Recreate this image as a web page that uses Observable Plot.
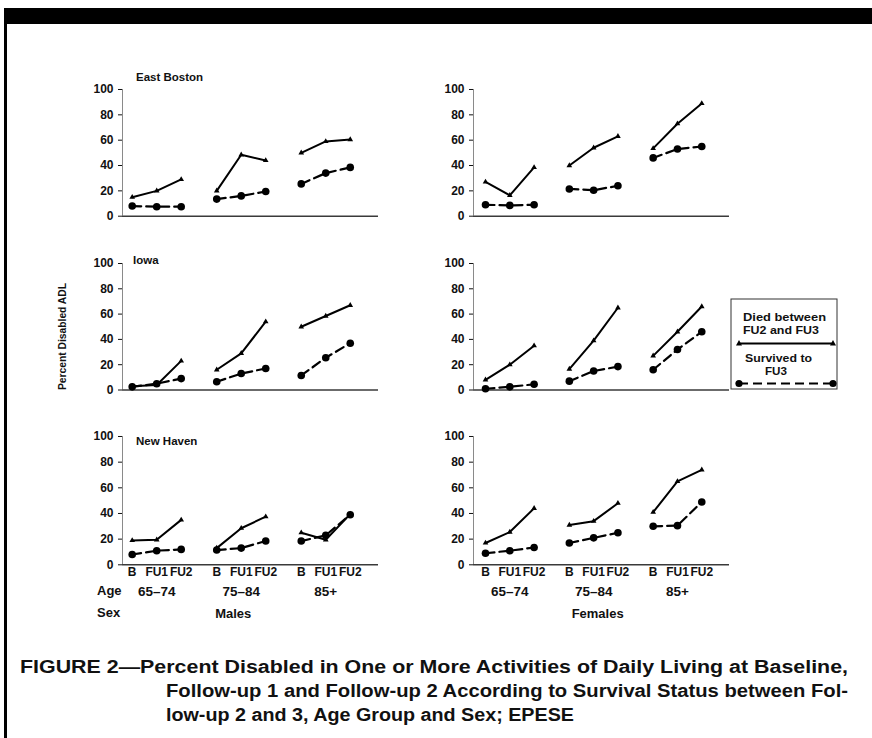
<!DOCTYPE html>
<html><head><meta charset="utf-8">
<script src="https://cdn.jsdelivr.net/npm/d3@7"></script>
<script src="https://cdn.jsdelivr.net/npm/@observablehq/plot@0.6"></script>
<style>
html,body{margin:0;padding:0;background:#fff;}
#fig{position:relative;width:872px;height:738px;overflow:hidden;font-family:"Liberation Sans",Arial,sans-serif;color:#111;background:#fff;}
</style></head><body><div id="fig"></div>
<script>
// ---------- data ----------
const sites = ["East Boston", "Iowa", "New Haven"];
const sexes = ["Males", "Females"];
const ageGroups = ["65–74", "75–84", "85+"];
const visits = ["B", "FU1", "FU2"];
const yTicks = [0, 20, 40, 60, 80, 100];

// values: 3 age groups x 3 visits (B, FU1, FU2)
const diedEastBostonMales     = [15, 20, 29,   20, 48.5, 44,   50, 59, 60.5];
const survEastBostonMales     = [8, 7.5, 7.5,  13.5, 16, 19.5, 25.5, 34, 38.5];
const diedEastBostonFemales   = [27, 16.5, 38.5, 40, 54, 63,   53.5, 73, 89];
const survEastBostonFemales   = [9, 8.5, 9,    21.5, 20.5, 24, 46, 53, 55];
const diedIowaMales           = [3, 4, 23,     16, 29, 54,     50, 58.5, 67];
const survIowaMales           = [2.5, 5, 9,    6.5, 13, 17,    11.5, 25.5, 37];
const diedIowaFemales         = [8, 20, 35,    16.5, 39, 65,   27, 46, 66];
const survIowaFemales         = [1, 2.5, 4.5,  7, 15, 18.5,    16, 32, 46];
const diedNewHavenMales       = [19, 19.5, 35, 13, 28.5, 37.5, 25, 19.5, 39.5];
const survNewHavenMales       = [8, 11, 12,    11.5, 13, 18.5, 18.5, 23, 39];
const diedNewHavenFemales     = [17, 25.5, 44, 31, 34, 48,     41, 65, 74];
const survNewHavenFemales     = [9, 11, 13.5,  17, 21, 25,     30, 30.5, 49];

const values = {
  "East Boston": {Males: {died: diedEastBostonMales, surv: survEastBostonMales},
                  Females: {died: diedEastBostonFemales, surv: survEastBostonFemales}},
  "Iowa": {Males: {died: diedIowaMales, surv: survIowaMales},
           Females: {died: diedIowaFemales, surv: survIowaFemales}},
  "New Haven": {Males: {died: diedNewHavenMales, surv: survNewHavenMales},
                Females: {died: diedNewHavenFemales, surv: survNewHavenFemales}}
};

// ---------- layout ----------
const FONT = '"Liberation Sans", Arial, Helvetica, sans-serif';
const layoutCols = [
  {axisX: 122, x0: 131.7, step: 24.5, xEnd: 378},
  {axisX: 473, x0: 485, step: 24.3, xEnd: 729}
];
const layoutRows = [
  {y100: 89, y0: 215.7},
  {y100: 263, y0: 389.5},
  {y100: 435.7, y0: 564}
];
const posOf = (g, i) => g * 3.45 + i;

const fig = document.getElementById("fig");

function panel(r, c) {
  const col = layoutCols[c], row = layoutRows[r];
  const ML = 40, MR = 8, MT = 12, MB = (r === 2 ? 64 : 8);
  const W = ML + (col.xEnd - col.axisX) + MR;
  const H = MT + (row.y0 - row.y100) + MB;
  const site = sites[r], sex = sexes[c];
  const died = [], surv = [];
  ageGroups.forEach((a, g) => visits.forEach((v, i) => {
    died.push({age: a, visit: v, pos: posOf(g, i), value: values[site][sex].died[g * 3 + i]});
    surv.push({age: a, visit: v, pos: posOf(g, i), value: values[site][sex].surv[g * 3 + i]});
  }));
  const xd = [(col.axisX - col.x0) / col.step, (col.xEnd - col.x0) / col.step];
  const marks = [
    Plot.ruleX([xd[0]], {y1: 0, y2: 100, stroke: "#8a8a8a", strokeWidth: 1}),
    Plot.ruleY([0], {stroke: "#3a3a3a", strokeWidth: 1.4}),
    Plot.axisY(yTicks, {tickSize: 4, tickPadding: 5, fontSize: 12, fontWeight: "bold", label: null, fontFamily: FONT}),
    Plot.line(died, {x: "pos", y: "value", z: "age", stroke: "#000", strokeWidth: 2}),
    Plot.dot(died, {x: "pos", y: "value", symbol: "triangle", r: 2.1, fill: "#000"}),
    Plot.line(surv, {x: "pos", y: "value", z: "age", stroke: "#000", strokeWidth: 2.2, strokeDasharray: "9,5"}),
    Plot.dot(surv, {x: "pos", y: "value", r: 3.8, fill: "#000"})
  ];
  if (r === 2) {
    marks.push(
      Plot.text(died, {x: "pos", y: 0, text: "visit", dy: 7.2, fontSize: 12, fontWeight: "bold", fontFamily: FONT}),
      Plot.text(ageGroups.map((a, g) => ({a, pos: posOf(g, 1)})), {x: "pos", y: 0, text: "a", dy: 27.2, fontSize: 13.5, fontWeight: "bold", fontFamily: FONT}),
      Plot.text([sex], {x: posOf(1, 1), y: 0, text: d => d, dy: 49, dx: c === 0 ? -8 : 4, fontSize: 13, fontWeight: "bold", fontFamily: FONT})
    );
  }
  const chart = Plot.plot({
    width: W, height: H,
    marginLeft: ML, marginRight: MR, marginTop: MT, marginBottom: MB,
    x: {type: "linear", domain: xd, axis: null},
    y: {domain: [0, 100], axis: null},
    style: {fontFamily: FONT, background: "transparent", overflow: "visible", color: "#111"},
    marks
  });
  chart.style.position = "absolute";
  chart.style.left = (col.axisX - ML) + "px";
  chart.style.top = (row.y100 - MT) + "px";
  fig.appendChild(chart);
}

for (let r = 0; r < 3; r++) for (let c = 0; c < 2; c++) panel(r, c);

// ---------- overlay texts, legend, caption, frame ----------
const ns = "http://www.w3.org/2000/svg";
const ov = document.createElementNS(ns, "svg");
ov.setAttribute("width", 872); ov.setAttribute("height", 738);
ov.style.cssText = "position:absolute;left:0;top:0;pointer-events:none;";
fig.appendChild(ov);
function el(tag, attrs, text) {
  const e = document.createElementNS(ns, tag);
  for (const k in attrs) e.setAttribute(k, attrs[k]);
  if (text != null) e.textContent = text;
  ov.appendChild(e);
  return e;
}
// frame
el("rect", {x: 4, y: 8, width: 868, height: 16, fill: "#000"});
el("rect", {x: 4, y: 8, width: 3, height: 730, fill: "#000"});

// site titles
const titlePos = [{x: 136, y: 80.5}, {x: 133, y: 264}, {x: 136, y: 445}];
sites.forEach((s, i) => el("text", {x: titlePos[i].x, y: titlePos[i].y, "font-family": FONT, "font-size": 11.5, "font-weight": "bold", fill: "#111"}, s));

// Age / Sex row labels
el("text", {x: 97, y: 595, "font-family": FONT, "font-size": 13, "font-weight": "bold", fill: "#111"}, "Age");
el("text", {x: 97, y: 617, "font-family": FONT, "font-size": 13, "font-weight": "bold", fill: "#111"}, "Sex");

// y-axis title
el("text", {x: 0, y: 0, transform: "translate(66,336.5) rotate(-90)", "text-anchor": "middle", "font-family": FONT, "font-size": 10, "font-weight": "bold", fill: "#111", textLength: 107, lengthAdjust: "spacingAndGlyphs"}, "Percent Disabled ADL");

// legend
const LF = 10.5;
el("rect", {x: 731, y: 299, width: 106, height: 90, fill: "none", stroke: "#333", "stroke-width": 1});
el("text", {x: 743, y: 321, "font-family": FONT, "font-size": LF, "font-weight": "bold", fill: "#111", textLength: 83, lengthAdjust: "spacingAndGlyphs"}, "Died between");
el("text", {x: 743, y: 334, "font-family": FONT, "font-size": LF, "font-weight": "bold", fill: "#111", textLength: 76, lengthAdjust: "spacingAndGlyphs"}, "FU2 and FU3");
el("line", {x1: 739, x2: 833, y1: 343.5, y2: 343.5, stroke: "#000", "stroke-width": 2});
el("path", {d: "M739,340 L742,345.5 L736,345.5 Z", fill: "#000"});
el("path", {d: "M833,340 L836,345.5 L830,345.5 Z", fill: "#000"});
el("text", {x: 745, y: 362, "font-family": FONT, "font-size": LF, "font-weight": "bold", fill: "#111", textLength: 67, lengthAdjust: "spacingAndGlyphs"}, "Survived to");
el("text", {x: 765, y: 375, "font-family": FONT, "font-size": LF, "font-weight": "bold", fill: "#111", textLength: 22, lengthAdjust: "spacingAndGlyphs"}, "FU3");
el("line", {x1: 739, x2: 833, y1: 383.5, y2: 383.5, stroke: "#000", "stroke-width": 2, "stroke-dasharray": "9,5"});
el("circle", {cx: 739, cy: 383.5, r: 3.6, fill: "#000"});
el("circle", {cx: 833, cy: 383.5, r: 3.6, fill: "#000"});

// caption
const capLines = [
  {t: "FIGURE 2—Percent Disabled in One or More Activities of Daily Living at Baseline,", x: 20, y: 673, w: 828},
  {t: "Follow-up 1 and Follow-up 2 According to Survival Status between Fol-", x: 166, y: 697, w: 682},
  {t: "low-up 2 and 3, Age Group and Sex; EPESE", x: 166, y: 721, w: 408}
];
capLines.forEach(l => el("text", {x: l.x, y: l.y, "font-family": FONT, "font-size": 18, "font-weight": "bold", fill: "#111", textLength: l.w, lengthAdjust: "spacingAndGlyphs"}, l.t));
</script>
</body></html>
